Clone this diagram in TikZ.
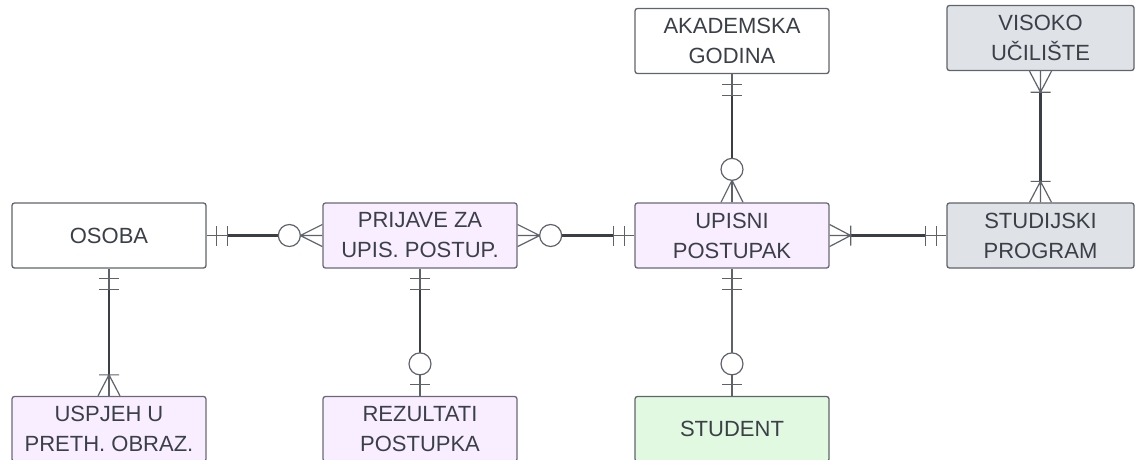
\documentclass[tikz,border=0pt]{standalone}
\usepackage{fontspec}
\setmainfont{Liberation Sans}
\usetikzlibrary{calc}
\definecolor{txtgray}{HTML}{3B4048}
\definecolor{boxline}{HTML}{60646C}
\definecolor{lilaline}{HTML}{6C6878}
\definecolor{lilafill}{HTML}{F9EEFF}
\definecolor{sivafill}{HTML}{DFE2E7}
\definecolor{zelenafill}{HTML}{E2F9E1}
\definecolor{relgray}{HTML}{5E636B}
\definecolor{reldark}{HTML}{3A3F47}
\tikzset{
  entity/.style={draw=boxline,line width=1.3pt,rounded corners=2.5pt,minimum width=194pt,minimum height=65pt,
    inner sep=0pt,align=center,text=txtgray,font=\fontsize{22}{30}\selectfont},
  bijela/.style={fill=white},
  lila/.style={fill=lilafill,draw=lilaline},
  siva/.style={fill=sivafill},
  zelena/.style={fill=zelenafill},
  rel/.style={draw=relgray,line width=1.2pt},
  relmid/.style={draw=reldark,line width=2.6pt},
  % end symbols, node edge at origin, pointing out along +x
  pics/one/.style={code={\draw[rel](10,-10)--(10,10)(21,-10)--(21,10);}},
  pics/zeroone/.style={code={\draw[rel](11,-10)--(11,10);\draw[rel,fill=white](32,0)circle[radius=11pt];}},
  pics/onemany/.style={code={\draw[rel](0,-11)--(21,0)--(0,11)(0,0)--(21,0)(21,-10)--(21,10);}},
  pics/zeromany/.style={code={\draw[rel](0,-11)--(22,0)--(0,11)(0,0)--(22,0);\draw[rel,fill=white](33,0)circle[radius=11pt];}}
}
\begin{document}
\begin{tikzpicture}[x=1pt,y=1pt]
\useasboundingbox(0,0)rectangle(1135,-459);
\clip(0,0)rectangle(1135,-459);
%entities
\node[entity,bijela](osoba)at(109,-235.5){OSOBA};
\node[entity,lila](prijave)at(420,-235.5){PRIJAVE ZA\\UPIS. POSTUP.};
\node[entity,lila](upisni)at(732,-235.5){UPISNI\\POSTUPAK};
\node[entity,siva,minimum width=187pt](studijski)at(1040.5,-235.5){STUDIJSKI\\PROGRAM};
\node[entity,bijela](akademska)at(732,-41){AKADEMSKA\\GODINA};
\node[entity,siva,minimum width=187pt](visoko)at(1040.5,-38){VISOKO\\UČILIŠTE};
\node[entity,lila](uspjeh)at(109,-429){USPJEH U\\PRETH. OBRAZ.};
\node[entity,lila](rezultati)at(420,-429){REZULTATI\\POSTUPKA};
\node[entity,zelena](student)at(732,-429){STUDENT};
%OSOBA - PRIJAVE
\draw[rel](osoba.east)--(prijave.west);
\draw[relmid]([xshift=21pt]osoba.east)--([xshift=-44pt]prijave.west);
\pic at(osoba.east){one};
\pic[rotate=180]at(prijave.west){zeromany};
%PRIJAVE - UPISNI
\draw[rel](prijave.east)--(upisni.west);
\draw[relmid]([xshift=44pt]prijave.east)--([xshift=-21pt]upisni.west);
\pic at(prijave.east){zeromany};
\pic[rotate=180]at(upisni.west){one};
%UPISNI - STUDIJSKI
\draw[rel](upisni.east)--(studijski.west);
\draw[relmid]([xshift=21pt]upisni.east)--([xshift=-21pt]studijski.west);
\pic at(upisni.east){onemany};
\pic[rotate=180]at(studijski.west){one};
%AKADEMSKA - UPISNI
\draw[rel](akademska.south)--(upisni.north);
\draw[relmid]([yshift=-21pt]akademska.south)--([yshift=44pt]upisni.north);
\pic[rotate=-90]at(akademska.south){one};
\pic[rotate=90]at(upisni.north){zeromany};
%VISOKO - STUDIJSKI
\draw[rel](visoko.south)--(studijski.north);
\draw[relmid]([yshift=-21pt]visoko.south)--([yshift=21pt]studijski.north);
\pic[rotate=-90]at(visoko.south){onemany};
\pic[rotate=90]at(studijski.north){onemany};
%OSOBA - USPJEH
\draw[rel](osoba.south)--(uspjeh.north);
\draw[relmid]([yshift=-21pt]osoba.south)--([yshift=21pt]uspjeh.north);
\pic[rotate=-90]at(osoba.south){one};
\pic[rotate=90]at(uspjeh.north){onemany};
%PRIJAVE - REZULTATI
\draw[rel](prijave.south)--(rezultati.north);
\draw[relmid]([yshift=-21pt]prijave.south)--([yshift=43pt]rezultati.north);
\pic[rotate=-90]at(prijave.south){one};
\pic[rotate=90]at(rezultati.north){zeroone};
%UPISNI - STUDENT
\draw[rel](upisni.south)--(student.north);
\pic[rotate=-90]at(upisni.south){one};
\pic[rotate=90]at(student.north){zeroone};
\end{tikzpicture}
\end{document}
